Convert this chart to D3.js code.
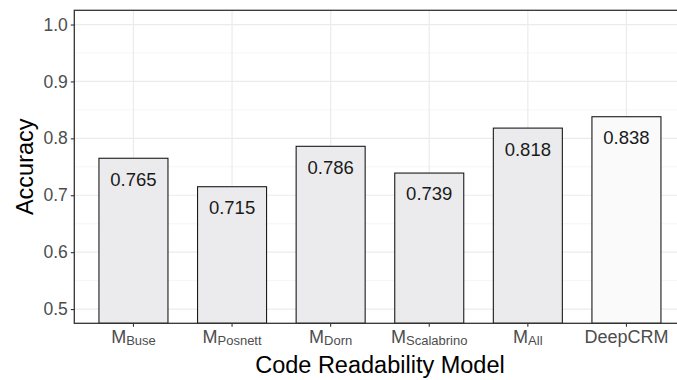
<!DOCTYPE html>
<html>
<head>
<meta charset="utf-8">
<script src="https://cdn.jsdelivr.net/npm/d3@7"></script>
<style>
  html, body { margin: 0; padding: 0; background: #fff; }
  svg { display: block; font-family: "Liberation Sans", Arial, sans-serif; }
</style>
</head>
<body>
<svg id="chart" width="677" height="380"></svg>
<script>
// ---- data ----
const categories = ["Buse", "Posnett", "Dorn", "Scalabrino", "All", "DeepCRM"];
const labelMain = ["M", "M", "M", "M", "M", "DeepCRM"];
const labelSub = ["Buse", "Posnett", "Dorn", "Scalabrino", "All", ""];
const accuracy = [0.765, 0.715, 0.786, 0.739, 0.818, 0.838];
const valueLabels = ["0.765", "0.715", "0.786", "0.739", "0.818", "0.838"];
const yTicks = [0.5, 0.6, 0.7, 0.8, 0.9, 1.0];
const yTickLabels = ["0.5", "0.6", "0.7", "0.8", "0.9", "1.0"];
const yMinor = [0.55, 0.65, 0.75, 0.85, 0.95];
const isProposed = [false, false, false, false, false, true];

// ---- layout ----
const svg = d3.select("#chart");
const pLeft = 74.3, pTop = 10.3, pBottom = 323.3, pRight = 685.6;

const x = d3.scaleBand().domain(categories).range([pLeft, pRight])
  .paddingInner(0.3).paddingOuter(0.25);
const y = d3.scaleLinear().domain([0.475, 1.025]).range([pBottom, pTop]);

svg.append("rect").attr("width", 677).attr("height", 380).attr("fill", "#fff");

// grid
const grid = svg.append("g");
grid.selectAll(".minor").data(yMinor).enter().append("line")
  .attr("x1", pLeft).attr("x2", pRight)
  .attr("y1", d => y(d)).attr("y2", d => y(d))
  .attr("stroke", "#f3f3f3").attr("stroke-width", 0.8);
grid.selectAll(".major").data(yTicks).enter().append("line")
  .attr("x1", pLeft).attr("x2", pRight)
  .attr("y1", d => y(d)).attr("y2", d => y(d))
  .attr("stroke", "#ebebeb").attr("stroke-width", 1.2);
grid.selectAll(".vmajor").data(categories).enter().append("line")
  .attr("x1", d => x(d) + x.bandwidth() / 2).attr("x2", d => x(d) + x.bandwidth() / 2)
  .attr("y1", pTop).attr("y2", pBottom)
  .attr("stroke", "#ebebeb").attr("stroke-width", 1.2);

// bars
svg.append("g").selectAll("rect").data(categories).enter().append("rect")
  .attr("x", d => x(d))
  .attr("width", x.bandwidth())
  .attr("y", (d, i) => y(accuracy[i]))
  .attr("height", (d, i) => pBottom - y(accuracy[i]))
  .attr("fill", (d, i) => isProposed[i] ? "#fafafa" : "#ebebed")
  .attr("stroke", "#1a1a1a").attr("stroke-width", 1.1);

// value labels
svg.append("g").selectAll("text").data(categories).enter().append("text")
  .attr("x", d => x(d) + x.bandwidth() / 2)
  .attr("y", (d, i) => y(accuracy[i]) + 27.4)
  .attr("text-anchor", "middle")
  .attr("font-size", "18.5px")
  .attr("fill", "#1a1a1a")
  .text((d, i) => valueLabels[i]);

// panel border
svg.append("rect")
  .attr("x", pLeft).attr("y", pTop)
  .attr("width", pRight - pLeft).attr("height", pBottom - pTop)
  .attr("fill", "none").attr("stroke", "#333").attr("stroke-width", 1.3);

// y axis
const yAxis = d3.axisLeft(y).tickValues(yTicks).tickSize(3.5).tickPadding(3)
  .tickFormat((d, i) => yTickLabels[i]);
const gy = svg.append("g").attr("transform", `translate(${pLeft},0)`).call(yAxis);
gy.select(".domain").remove();
gy.selectAll(".tick line").attr("stroke", "#333").attr("stroke-width", 1.1);
gy.selectAll(".tick text").attr("font-size", "17.5px").attr("fill", "#4d4d4d")
  .attr("font-family", "Liberation Sans, Arial, sans-serif");

// x axis
const xAxis = d3.axisBottom(x).tickSize(3.5).tickPadding(3).tickFormat(() => "");
const gx = svg.append("g").attr("transform", `translate(0,${pBottom})`).call(xAxis);
gx.select(".domain").remove();
gx.selectAll(".tick line").attr("stroke", "#333").attr("stroke-width", 1.1);
gx.selectAll(".tick text").remove();

const xl = svg.append("g").selectAll("text").data(categories).enter().append("text")
  .attr("x", d => x(d) + x.bandwidth() / 2)
  .attr("y", 342.7)
  .attr("text-anchor", "middle")
  .attr("fill", "#4d4d4d")
  .attr("font-size", "18px");
xl.append("tspan").text((d, i) => labelMain[i]);
xl.append("tspan").attr("font-size", "13px").attr("dy", 2.4)
  .text((d, i) => labelSub[i]);

// axis titles
svg.append("text")
  .attr("x", (pLeft + pRight) / 2).attr("y", 372.5)
  .attr("text-anchor", "middle").attr("font-size", "23.5px").attr("fill", "#000")
  .text("Code Readability Model");

svg.append("text")
  .attr("transform", `translate(32.5,${(pTop + pBottom) / 2}) rotate(-90)`)
  .attr("text-anchor", "middle").attr("font-size", "23.5px").attr("fill", "#000")
  .text("Accuracy");
</script>
</body>
</html>
